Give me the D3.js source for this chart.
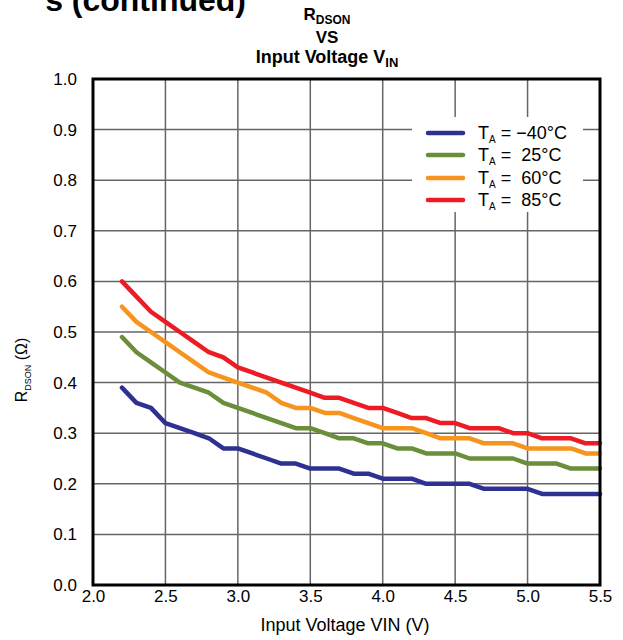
<!DOCTYPE html>
<html>
<head>
<meta charset="utf-8">
<script src="https://cdn.jsdelivr.net/npm/d3@7"></script>
<style>
  html, body { margin: 0; padding: 0; background: #fff; }
  svg { display: block; font-family: "Liberation Sans", Arial, sans-serif; }
</style>
</head>
<body>
<svg id="chart" width="623" height="640"></svg>
<script>
const vin = [2.2,2.3,2.4,2.5,2.6,2.7,2.8,2.9,3.0,3.1,3.2,3.3,3.4,3.5,3.6,3.7,3.8,3.9,4.0,4.1,4.2,4.3,4.4,4.5,4.6,4.7,4.8,4.9,5.0,5.1,5.2,5.3,5.4,5.5];
const rM40 = [0.39,0.36,0.35,0.32,0.31,0.30,0.29,0.27,0.27,0.26,0.25,0.24,0.24,0.23,0.23,0.23,0.22,0.22,0.21,0.21,0.21,0.20,0.20,0.20,0.20,0.19,0.19,0.19,0.19,0.18,0.18,0.18,0.18,0.18];
const r25  = [0.49,0.46,0.44,0.42,0.40,0.39,0.38,0.36,0.35,0.34,0.33,0.32,0.31,0.31,0.30,0.29,0.29,0.28,0.28,0.27,0.27,0.26,0.26,0.26,0.25,0.25,0.25,0.25,0.24,0.24,0.24,0.23,0.23,0.23];
const r60  = [0.55,0.52,0.50,0.48,0.46,0.44,0.42,0.41,0.40,0.39,0.38,0.36,0.35,0.35,0.34,0.34,0.33,0.32,0.31,0.31,0.31,0.30,0.29,0.29,0.29,0.28,0.28,0.28,0.27,0.27,0.27,0.27,0.26,0.26];
const r85  = [0.60,0.57,0.54,0.52,0.50,0.48,0.46,0.45,0.43,0.42,0.41,0.40,0.39,0.38,0.37,0.37,0.36,0.35,0.35,0.34,0.33,0.33,0.32,0.32,0.31,0.31,0.31,0.30,0.30,0.29,0.29,0.29,0.28,0.28];
const seriesNames = ["\u221240\u00B0C", " 25\u00B0C", " 60\u00B0C", " 85\u00B0C"];
const seriesColors = ["#2E3192", "#6B8E3A", "#F7941D", "#ED1C24"];
const xTicks = [2.0,2.5,3.0,3.5,4.0,4.5,5.0,5.5];
const yTicks = [0.0,0.1,0.2,0.3,0.4,0.5,0.6,0.7,0.8,0.9,1.0];

const seriesValues = [rM40, r25, r60, r85];

const svg = d3.select("#chart");
const L = 93, R = 600, T = 79, B = 585;
const x = d3.scaleLinear().domain([2.0, 5.5]).range([L, R]);
const y = d3.scaleLinear().domain([0, 1.0]).range([B, T]);

// page header, partly cut off at the top of the page as in the source
svg.append("text").attr("x", 246).attr("y", 11).attr("text-anchor", "end")
  .attr("font-size", 32).attr("font-weight", "bold").attr("fill", "#000")
  .text("s (continued)");

// title
const title = svg.append("g").attr("font-weight", "bold").attr("text-anchor", "middle").attr("fill", "#000");
const t1 = title.append("text").attr("x", 327).attr("y", 20).attr("font-size", 17);
t1.append("tspan").text("R");
t1.append("tspan").attr("font-size", 12).attr("dy", 4).text("DSON");
title.append("text").attr("x", 327).attr("y", 43).attr("font-size", 17).text("VS");
const t3 = title.append("text").attr("x", 327).attr("y", 63).attr("font-size", 18);
t3.append("tspan").text("Input Voltage V");
t3.append("tspan").attr("font-size", 13).attr("dy", 4).text("IN");

// grid
const grid = svg.append("g");
grid.selectAll("line.v").data(xTicks.slice(1, -1)).join("line")
  .attr("x1", d => x(d)).attr("x2", d => x(d)).attr("y1", T).attr("y2", B)
  .attr("stroke", "#666").attr("stroke-width", 1.5);
grid.selectAll("line.h").data(yTicks.slice(1, -1)).join("line")
  .attr("y1", d => y(d)).attr("y2", d => y(d)).attr("x1", L).attr("x2", R)
  .attr("stroke", "#666").attr("stroke-width", 1.5);

// axes
const xAxis = d3.axisBottom(x).tickValues(xTicks).tickFormat(d3.format(".1f")).tickSize(0).tickPadding(5);
const yAxis = d3.axisLeft(y).tickValues(yTicks).tickFormat(d3.format(".1f")).tickSize(0).tickPadding(16);
const gx = svg.append("g").attr("transform", `translate(0,${B})`).call(xAxis);
const gy = svg.append("g").attr("transform", `translate(${L},0)`).call(yAxis);
[gx, gy].forEach(g => {
  g.select(".domain").remove();
  g.selectAll("text").attr("font-size", 17).attr("fill", "#000").attr("font-family", "Liberation Sans, Arial, sans-serif");
});

// legend background (covers grid)
const legend = svg.append("g");
legend.append("rect").attr("x", 412).attr("y", 117).attr("width", 171).attr("height", 95).attr("fill", "#fff");

// lines
const line = d3.line().x((d, i) => x(vin[i])).y(d => y(d)).curve(d3.curveLinear);
svg.append("g").selectAll("path").data(seriesValues).join("path")
  .attr("d", d => line(d)).attr("fill", "none")
  .attr("stroke", (d, i) => seriesColors[i]).attr("stroke-width", 4.5)
  .attr("stroke-linejoin", "round").attr("stroke-linecap", "round");

// frame
svg.append("rect").attr("x", L).attr("y", T).attr("width", R - L).attr("height", B - T)
  .attr("fill", "none").attr("stroke", "#000").attr("stroke-width", 3);

// legend entries
const rowY = [133, 155, 178, 200];
seriesNames.forEach((name, i) => {
  legend.append("line").attr("x1", 428).attr("x2", 463).attr("y1", rowY[i]).attr("y2", rowY[i])
    .attr("stroke", seriesColors[i]).attr("stroke-width", 4.5).attr("stroke-linecap", "round");
  const t = legend.append("text").attr("x", 478).attr("y", rowY[i] + 6).attr("font-size", 18).attr("fill", "#000");
  t.append("tspan").text("T");
  t.append("tspan").attr("font-size", 10).attr("dy", 4).text("A");
  t.append("tspan").attr("dy", -4).attr("xml:space", "preserve").text(" = " + name);
});
legend.raise();

// axis titles
svg.append("text").attr("x", 345).attr("y", 631).attr("text-anchor", "middle")
  .attr("font-size", 18).attr("fill", "#000").text("Input Voltage VIN (V)");
const yl = svg.append("text").attr("transform", "translate(27,370) rotate(-90)")
  .attr("text-anchor", "middle").attr("font-size", 16).attr("fill", "#000");
yl.append("tspan").text("R");
yl.append("tspan").attr("font-size", 9).attr("dy", 4).text("DSON");
yl.append("tspan").attr("dy", -4).text(" (\u03A9)");
</script>
</body>
</html>
